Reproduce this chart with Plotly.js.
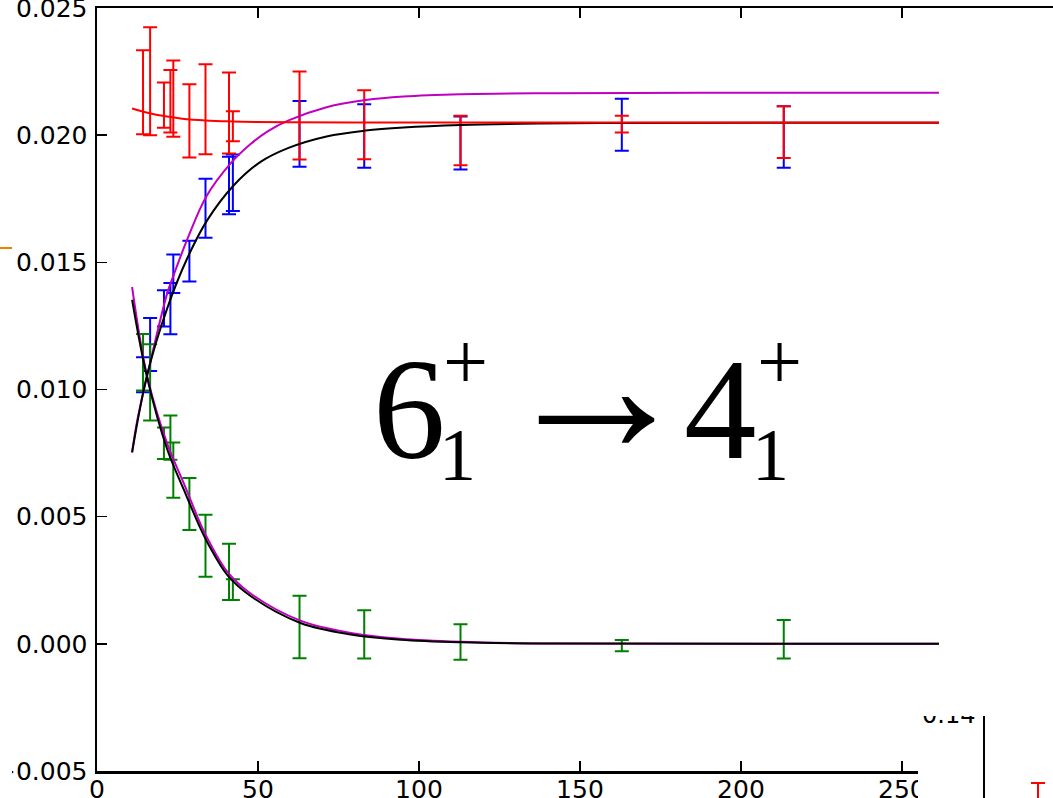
<!DOCTYPE html>
<html>
<head>
<meta charset="utf-8">
<script src="https://cdn.plot.ly/plotly-3.0.1.min.js"></script>
<style>
  html, body { margin: 0; padding: 0; background: #ffffff; overflow: hidden; width: 1053px; height: 798px; }
  #plot { position: absolute; left: 0; top: 0; width: 1120px; height: 830px; }
</style>
</head>
<body>
<div id="plot"></div>
<script>
// ---- data ----
const times = [14.3, 16.5, 20.8, 22.8, 23.7, 28.7, 33.7, 41.0, 42.2, 62.9, 83.0, 112.9, 163.0, 213.3];

const redY   = [0.02169, 0.02212, 0.02118, 0.02133, 0.02144, 0.02056, 0.02102, 0.02087, 0.02035, 0.02077, 0.02041, 0.01979, 0.02043, 0.02012];
const redErr = [0.00165, 0.00212, 0.00089, 0.00123, 0.00150, 0.00144, 0.00177, 0.00159, 0.00059, 0.00173, 0.00136, 0.00097, 0.00033, 0.00102];

const blueY   = [0.01058, 0.01177, 0.01319, 0.01318, 0.01455, 0.01505, 0.01713, 0.01802, 0.01813, 0.02005, 0.01997, 0.01969, 0.02041, 0.01993];
const blueErr = [0.00069, 0.00104, 0.00071, 0.00101, 0.00076, 0.00080, 0.00116, 0.00113, 0.00111, 0.00129, 0.00125, 0.00104, 0.00102, 0.00121];

const greenY   = [0.01107, 0.01028, 0.00789, 0.00811, 0.00683, 0.00550, 0.00386, 0.00283, 0.00213, 0.00066, 0.00037, 0.00007, -0.00007, 0.00018];
const greenErr = [0.00111, 0.00150, 0.00062, 0.00087, 0.00109, 0.00102, 0.00122, 0.00111, 0.00041, 0.00123, 0.00095, 0.00070, 0.00022, 0.00076];

// fitted curves
const redFitX = [10.9, 16.0, 21.3, 26.5, 33.7, 42.1, 49.3, 60, 80, 150, 261.5];
const redFitY = [0.02105, 0.02087, 0.02074, 0.02065, 0.02058, 0.02054, 0.02052, 0.02051, 0.02050, 0.02050, 0.02050];

const magRiseX = [10.9, 12.5, 15.6, 21.8, 23.9, 28.4, 34.0, 41.5, 47.7, 53.0, 59.5, 71.3, 83.4, 95.2, 113.0, 142.8, 187.5, 261.5];
const magRiseY = [0.00753, 0.00878, 0.01055, 0.01378, 0.01453, 0.01602, 0.01760, 0.01889, 0.01965, 0.02015, 0.02058, 0.02110, 0.02138, 0.02152, 0.02161, 0.02165, 0.02167, 0.02167];

const blackRiseX = [10.9, 15.6, 21.8, 28.0, 34.2, 42.5, 50.8, 59.5, 71.3, 83.4, 95.2, 113.0, 131.6, 156.5, 261.5];
const blackRiseY = [0.00753, 0.01059, 0.01319, 0.01515, 0.01665, 0.01803, 0.01895, 0.01950, 0.01995, 0.02018, 0.02030, 0.02040, 0.02045, 0.02048, 0.02049];

const magDecayX = [10.9, 15.6, 21.8, 27.0, 32.2, 34.7, 40.5, 47.7, 63.2, 78.8, 94.3, 113.0, 142.8, 261.5];
const magDecayY = [0.01403, 0.01051, 0.00787, 0.00630, 0.00470, 0.00405, 0.00283, 0.00198, 0.00091, 0.00043, 0.00020, 0.00008, 0.00001, 0.0];

const blackDecayX = [10.9, 15.6, 21.8, 27.0, 32.2, 34.7, 40.5, 47.7, 63.2, 78.8, 94.3, 113.0, 142.8, 261.5];
const blackDecayY = [0.01353, 0.01045, 0.00765, 0.00605, 0.00452, 0.00389, 0.00270, 0.00188, 0.00082, 0.00037, 0.00016, 0.00006, 0.00001, 0.0];

const xTicks = [0, 50, 100, 150, 200, 250, 300];
const yTicks = [-0.005, 0.000, 0.005, 0.010, 0.015, 0.020, 0.025];

// ---- traces ----
function errTrace(y, e, color) {
  return {
    x: times, y: y, type: 'scatter', mode: 'markers',
    marker: { size: 1, color: 'rgba(0,0,0,0)' },
    error_y: { type: 'data', array: e, visible: true, color: color, thickness: 2, width: 7 },
    hoverinfo: 'skip', showlegend: false
  };
}
function lineTrace(x, y, color, w) {
  return {
    x: x, y: y, type: 'scatter', mode: 'lines',
    line: { color: color, width: w, shape: 'spline', smoothing: 1 },
    hoverinfo: 'skip', showlegend: false
  };
}

const data = [
  errTrace(blueY, blueErr, '#0000ff'),
  errTrace(redY, redErr, '#ff0000'),
  errTrace(greenY, greenErr, '#008000'),
  lineTrace(magRiseX, magRiseY, '#c000c0', 2),
  lineTrace(magDecayX, magDecayY, '#c000c0', 2),
  lineTrace(blackRiseX, blackRiseY, '#000000', 2),
  lineTrace(blackDecayX, blackDecayY, '#000000', 2),
  lineTrace(redFitX, redFitY, '#ff0000', 2)
];

// geometry helpers for decorations (pixel -> paper)
const W = 1120, H = 830;
const L = 97, T = 8, PW = 982, PH = 763;
const px = v => (v - L) / PW;
const py = v => (T + PH - v) / PH;

const serif = 'Liberation Serif, Times New Roman, serif';
function txt(s, x, y, size) {
  return { text: s, xref: 'paper', yref: 'paper', x: px(x), y: py(y), xanchor: 'center', yanchor: 'middle',
           showarrow: false, font: { family: serif, size: size, color: '#000' } };
}

const axisCommon = {
  showgrid: false, zeroline: false, showline: true, linecolor: '#000', linewidth: 2.5, mirror: 'ticks',
  ticks: 'inside', ticklen: 10, tickwidth: 1.5, tickcolor: '#000', ticklabeloverflow: 'allow',
  tickfont: { family: 'DejaVu Sans', size: 25, color: '#000' }
};

const layout = {
  width: W, height: H,
  margin: { l: L, r: W - L - PW, t: T, b: H - T - PH, pad: 0 },
  paper_bgcolor: '#ffffff', plot_bgcolor: '#ffffff',
  showlegend: false,
  font: { family: 'DejaVu Sans', size: 25, color: '#000' },
  xaxis: Object.assign({}, axisCommon, {
    range: [0, 305], tickmode: 'array', tickvals: xTicks, ticktext: xTicks.map(String),
    ticklabelstandoff: -6
  }),
  yaxis: Object.assign({}, axisCommon, {
    range: [-0.005, 0.025], tickmode: 'array', tickvals: yTicks, tickformat: '.3f',
    ticklabelstandoff: 2
  }),
  shapes: [
    // neighbouring figure strip at the far left edge
    { type: 'rect', xref: 'paper', yref: 'paper', x0: px(-20), x1: px(12), y0: py(-20), y1: py(850), layer: 'above',
      fillcolor: '#ffffff', line: { width: 0 } },
    // overlapping inset from a neighbouring figure (bottom right)
    { type: 'rect', xref: 'paper', yref: 'paper', x0: px(918), x1: px(1120), y0: py(716), y1: py(850), layer: 'above',
      fillcolor: '#ffffff', line: { width: 0 } },
    { type: 'line', xref: 'paper', yref: 'paper', x0: px(984), x1: px(984), y0: py(716), y1: py(850), layer: 'above',
      line: { color: '#000', width: 2 } },
    { type: 'line', xref: 'paper', yref: 'paper', x0: px(1031), x1: px(1045), y0: py(783), y1: py(783), layer: 'above',
      line: { color: '#ff0000', width: 2 } },
    { type: 'line', xref: 'paper', yref: 'paper', x0: px(1038), x1: px(1038), y0: py(783), y1: py(805), layer: 'above',
      line: { color: '#ff0000', width: 2 } },
    // small orange mark at the left edge
    { type: 'line', xref: 'paper', yref: 'paper', x0: px(0), x1: px(12), y0: py(248), y1: py(248), layer: 'above',
      line: { color: '#f08000', width: 2 } }
  ],
  annotations: [
    txt('6', 409.5, 409, 145),
    txt('1', 457.5, 455, 74),
    txt('+', 465.5, 361.5, 80),
    txt('\u2192', 596, 386, 195),
    txt('4', 720, 409, 145),
    txt('1', 770.5, 455, 74),
    txt('+', 779, 361.5, 80),
    // tick label of the overlapping inset, whose upper part is hidden by the main figure
    { text: '0.14', xref: 'paper', yref: 'paper', x: px(920), y: py(714.7), xanchor: 'left', yanchor: 'middle',
      showarrow: false, font: { family: 'DejaVu Sans', size: 24, color: '#000' } },
    { text: ' ', xref: 'paper', yref: 'paper', x: px(914), y: py(716), xanchor: 'left', yanchor: 'bottom',
      width: 68, height: 24, borderpad: 0, borderwidth: 0, bgcolor: '#ffffff', showarrow: false,
      font: { family: 'DejaVu Sans', size: 10, color: '#fff' } }
  ]
};

Plotly.newPlot('plot', data, layout, { staticPlot: true, displayModeBar: false });
</script>
</body>
</html>
